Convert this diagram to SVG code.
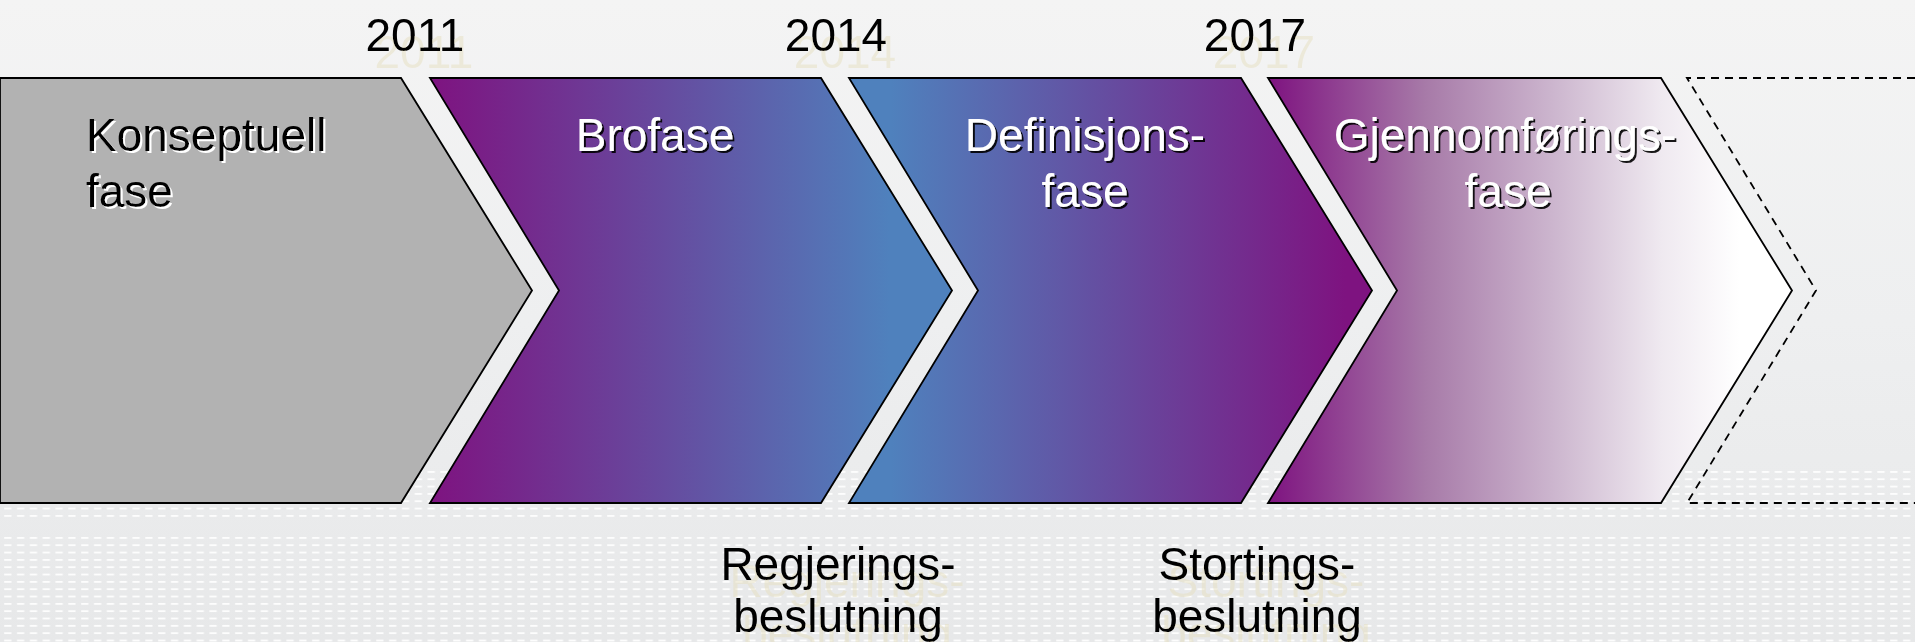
<svg xmlns="http://www.w3.org/2000/svg" width="1915" height="642" viewBox="0 0 1915 642">
  <defs>
    <linearGradient id="bg" x1="0" y1="0" x2="0" y2="1">
      <stop offset="0" stop-color="#f4f4f4"/>
      <stop offset="0.5" stop-color="#eeeff0"/>
      <stop offset="1" stop-color="#e7e8e9"/>
    </linearGradient>
    <pattern id="dash" patternUnits="userSpaceOnUse" x="4" y="471" width="12.83" height="7.33">
      <rect x="0" y="0" width="7.6" height="1.8" rx="0.8" fill="#ffffff" fill-opacity="0.9"/>
    </pattern>
    <linearGradient id="g2" x1="0" y1="0" x2="1" y2="0">
      <stop offset="0" stop-color="#7e1380"/>
      <stop offset="0.88" stop-color="#4f81bd"/>
    </linearGradient>
    <linearGradient id="g3" x1="0" y1="0" x2="1" y2="0">
      <stop offset="0.08" stop-color="#4f81bd"/>
      <stop offset="0.95" stop-color="#7e1380"/>
    </linearGradient>
    <linearGradient id="g4" x1="0" y1="0" x2="1" y2="0">
      <stop offset="0" stop-color="#7e1380"/>
      <stop offset="0.3" stop-color="#a77aa8"/>
      <stop offset="0.55" stop-color="#cdb7cf"/>
      <stop offset="0.75" stop-color="#efe9f0"/>
      <stop offset="0.9" stop-color="#ffffff"/>
    </linearGradient>
    <filter id="shDark" x="-10%" y="-20%" width="130%" height="150%">
      <feOffset in="SourceAlpha" dx="2" dy="2" result="o"/>
      <feFlood flood-color="#000000" flood-opacity="0.9"/>
      <feComposite in2="o" operator="in" result="s"/>
      <feMerge><feMergeNode in="s"/><feMergeNode in="SourceGraphic"/></feMerge>
    </filter>
    <filter id="shLight" x="-10%" y="-20%" width="130%" height="150%">
      <feOffset in="SourceAlpha" dx="2" dy="2" result="o"/>
      <feFlood flood-color="#ffffff" flood-opacity="1"/>
      <feComposite in2="o" operator="in" result="s"/>
      <feMerge><feMergeNode in="s"/><feMergeNode in="SourceGraphic"/></feMerge>
    </filter>
    <filter id="ghost" x="-20%" y="-50%" width="150%" height="220%">
      <feOffset in="SourceAlpha" dx="9" dy="17" result="o"/>
      <feFlood flood-color="#e6dfc0" flood-opacity="0.5"/>
      <feComposite in2="o" operator="in" result="s"/>
      <feMerge><feMergeNode in="s"/><feMergeNode in="SourceGraphic"/></feMerge>
    </filter>
  </defs>
  <style>
    .shape { stroke: #000000; stroke-width: 1.8; stroke-linejoin: miter; }
    .lbl { font-family: "Liberation Sans", Arial, sans-serif; font-size: 46px; }
    .w { fill: #ffffff; filter: url(#shDark); }
    .k { fill: #000000; filter: url(#shLight); }
    .mark { font-family: "Liberation Sans", Arial, sans-serif; font-size: 46px; fill: #000000; text-anchor: middle; filter: url(#ghost); }
    .mid { text-anchor: middle; }
  </style>

  <rect x="0" y="0" width="1915" height="642" fill="url(#bg)"/>
  <rect x="0" y="471" width="1915" height="50" fill="url(#dash)"/>
  <rect x="0" y="536.5" width="1915" height="106" fill="url(#dash)"/>

  <g id="connectors"></g>

  <g id="phase-konseptuell">
    <path class="shape" fill="#b2b2b2" d="M0,78 H401 L532,290.5 L401,503 H0 Z"/>
    <text class="lbl k" x="86" y="151">Konseptuell</text>
    <text class="lbl k" x="86" y="207">fase</text>
  </g>

  <g id="phase-brofase">
    <path class="shape" fill="url(#g2)" d="M430,78 H821 L952,290.5 L821,503 H430 L559,290.5 Z"/>
    <text class="lbl w mid" x="655" y="151">Brofase</text>
  </g>

  <g id="phase-definisjon">
    <path class="shape" fill="url(#g3)" d="M849,78 H1241 L1372,290.5 L1241,503 H849 L978,290.5 Z"/>
    <text class="lbl w mid" x="1085" y="151">Definisjons-</text>
    <text class="lbl w mid" x="1085" y="207">fase</text>
  </g>

  <g id="phase-gjennomforing">
    <path class="shape" fill="url(#g4)" d="M1268,78 H1661 L1792,290.5 L1661,503 H1268 L1397,290.5 Z"/>
    <text class="lbl w mid" x="1505" y="151">Gjennomførings-</text>
    <text class="lbl w mid" x="1508" y="207">fase</text>
  </g>

  <g id="phase-next">
    <path d="M1915,78 H1687 L1816,290.5 L1687,503 H1915" fill="none" stroke="#000000" stroke-width="1.8" stroke-dasharray="8,6"/>
  </g>

  <g id="year-2011"><text class="mark" x="415" y="51">2011</text></g>
  <g id="year-2014"><text class="mark" x="836" y="51">2014</text></g>
  <g id="year-2017"><text class="mark" x="1255" y="51">2017</text></g>

  <g id="decision-regjering">
    <text class="mark" x="838" y="580">Regjerings-</text>
    <text class="mark" x="838" y="632">beslutning</text>
  </g>
  <g id="decision-storting">
    <text class="mark" x="1257" y="580">Stortings-</text>
    <text class="mark" x="1257" y="632">beslutning</text>
  </g>
</svg>
